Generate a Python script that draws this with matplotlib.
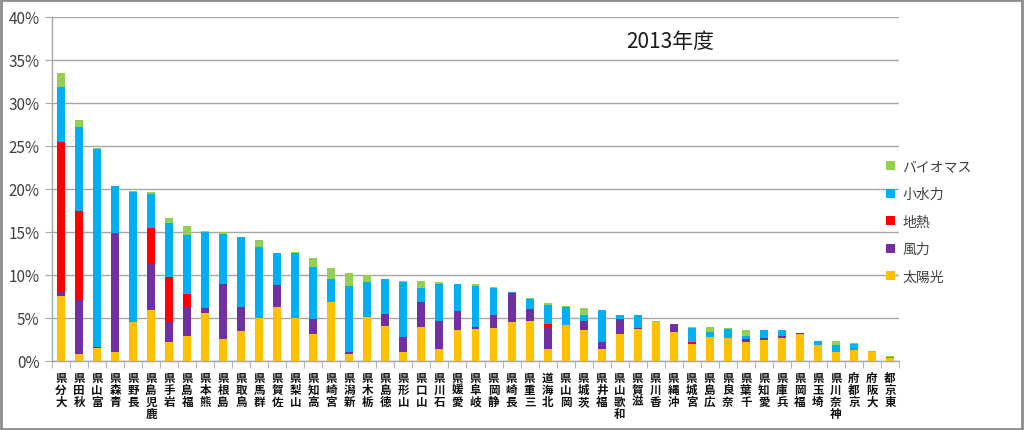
import matplotlib
matplotlib.use("Agg")
import matplotlib.pyplot as plt
from matplotlib.patches import Patch, Rectangle
from matplotlib.ticker import FuncFormatter, FixedLocator
import numpy as np

plt.rcParams['font.family'] = ['Noto Sans CJK JP', 'DejaVu Sans']

prefectures = ["大分県", "秋田県", "富山県", "青森県", "長野県", "鹿児島県", "岩手県", "福島県",
               "熊本県", "島根県", "鳥取県", "群馬県", "佐賀県", "山梨県", "高知県", "宮崎県",
               "新潟県", "栃木県", "徳島県", "山形県", "山口県", "石川県", "愛媛県", "岐阜県",
               "静岡県", "長崎県", "三重県", "北海道", "岡山県", "茨城県", "福井県", "和歌山県",
               "滋賀県", "香川県", "沖縄県", "宮城県", "広島県", "奈良県", "千葉県", "愛知県",
               "兵庫県", "福岡県", "埼玉県", "神奈川県", "京都府", "大阪府", "東京都"]

solar = [7.6, 0.8, 1.5, 1.0, 4.5, 5.9, 2.2, 2.9, 5.6, 2.6, 3.5, 5.0, 6.3, 5.0, 3.1, 6.9,
         0.85, 5.1, 4.1, 1.05, 3.95, 1.4, 3.65, 3.75, 3.85, 4.5, 4.6, 1.4, 4.15, 3.65, 1.4,
         3.1, 3.75, 4.55, 3.4, 2.0, 2.75, 2.7, 2.25, 2.45, 2.7, 3.1, 1.9, 1.0, 1.3, 1.0, 0.35]
wind = [0.4, 6.3, 0.05, 13.9, 0, 5.4, 2.3, 3.4, 0.6, 6.4, 2.8, 0, 2.5, 0, 1.8, 0,
        0.15, 0, 1.4, 1.75, 2.95, 3.3, 2.15, 0.25, 1.55, 3.4, 1.4, 2.5, 0, 0.95, 0.85,
        1.8, 0.1, 0, 0.9, 0, 0, 0, 0.3, 0.25, 0.25, 0.15, 0, 0.05, 0, 0, 0]
geothermal = [17.5, 10.4, 0.05, 0, 0, 4.2, 5.3, 1.5, 0, 0, 0, 0, 0, 0, 0, 0,
              0, 0, 0, 0, 0, 0, 0, 0, 0, 0, 0, 0.4, 0, 0, 0,
              0, 0, 0, 0, 0.2, 0, 0, 0, 0, 0, 0, 0, 0, 0, 0, 0]
hydro = [6.4, 9.7, 23.1, 5.4, 15.2, 3.9, 6.3, 6.9, 8.8, 5.8, 8.1, 8.3, 3.8, 7.6, 6.0, 2.6,
         7.7, 4.05, 4.0, 6.4, 1.55, 4.3, 3.2, 4.7, 3.05, 0.1, 1.25, 2.25, 2.15, 0.75, 3.65,
         0.5, 1.45, 0, 0.05, 1.65, 0.65, 1.05, 0.3, 0.95, 0.6, 0, 0.4, 0.8, 0.7, 0, 0.1]
biomass = [1.6, 0.8, 0.1, 0.05, 0.1, 0.2, 0.5, 1.0, 0.1, 0.2, 0, 0.8, 0, 0.05, 1.1, 1.3,
           1.5, 0.85, 0, 0.15, 0.85, 0.2, 0, 0.2, 0.1, 0, 0.1, 0.15, 0.1, 0.8, 0.05,
           0, 0, 0.05, 0, 0.1, 0.5, 0.05, 0.75, 0, 0.05, 0.05, 0, 0.45, 0.05, 0.15, 0.15]

series_names = ["太陽光", "風力", "地熱", "小水力", "バイオマス"]
series_values = [solar, wind, geothermal, hydro, biomass]
series_colors = ["#FFC000", "#7030A0", "#FF0000", "#00B0F0", "#92D050"]
title_text = "2013年度"
yticks = [0, 5, 10, 15, 20, 25, 30, 35, 40]

fig = plt.figure(figsize=(10.24, 4.31), dpi=100)
ax = fig.add_axes([52/1024, 1-362/431, 847/1024, 344/431])

x = np.arange(len(prefectures))
bottom = np.zeros(len(prefectures))
for name, vals, col in zip(series_names, series_values, series_colors):
    v = np.array(vals, dtype=float)
    ax.bar(x, v, width=0.44, bottom=bottom, color=col, linewidth=0, label=name, zorder=3)
    bottom += v

ax.set_xlim(-0.5, len(prefectures) - 0.5)
ax.set_ylim(0, 40)
ax.set_yticks(yticks)
ax.yaxis.set_major_formatter(FuncFormatter(lambda v, p: f"{v:.0f}%"))
ax.grid(axis='y', color='#a6a6a6', linewidth=1, zorder=0)

for s in ['top', 'right']:
    ax.spines[s].set_visible(False)
for s in ['left', 'bottom']:
    ax.spines[s].set_color('#a6a6a6')
    ax.spines[s].set_linewidth(1)

ax.tick_params(axis='y', length=5, color='#a6a6a6', labelsize=11, labelcolor='#404040', pad=4)
ax.set_xticks(x)
ax.set_xticklabels(["\n".join(reversed(p)) for p in prefectures], fontsize=8.3,
                   fontweight='bold', linespacing=0.9, va='top')
ax.tick_params(axis='x', length=0, pad=7, labelcolor='#111111')
ax.xaxis.set_minor_locator(FixedLocator(np.arange(-0.5, len(prefectures), 1.0)))
ax.tick_params(axis='x', which='minor', length=5, color='#a6a6a6')

handles = [Patch(facecolor=c, edgecolor='none', label=n) for n, c in zip(series_names, series_colors)]
leg = ax.legend(handles[::-1], series_names[::-1], loc='center left',
                bbox_to_anchor=(0.985, 0.405), frameon=False, fontsize=10,
                handlelength=0.65, handleheight=0.65, handletextpad=0.5,
                labelspacing=0.97, borderaxespad=0, borderpad=0)
for t in leg.get_texts():
    t.set_color('#404040')

fig.text(670/1024, 1-42/431, title_text, ha='center', va='center', fontsize=15, color='#1a1a1a')

fig.patches.append(Rectangle((0.001, 0.002), 0.997, 0.995, transform=fig.transFigure,
                             fill=False, edgecolor='#8c8c8c', linewidth=2))

fig.savefig("out.png", dpi=100, facecolor='white')
